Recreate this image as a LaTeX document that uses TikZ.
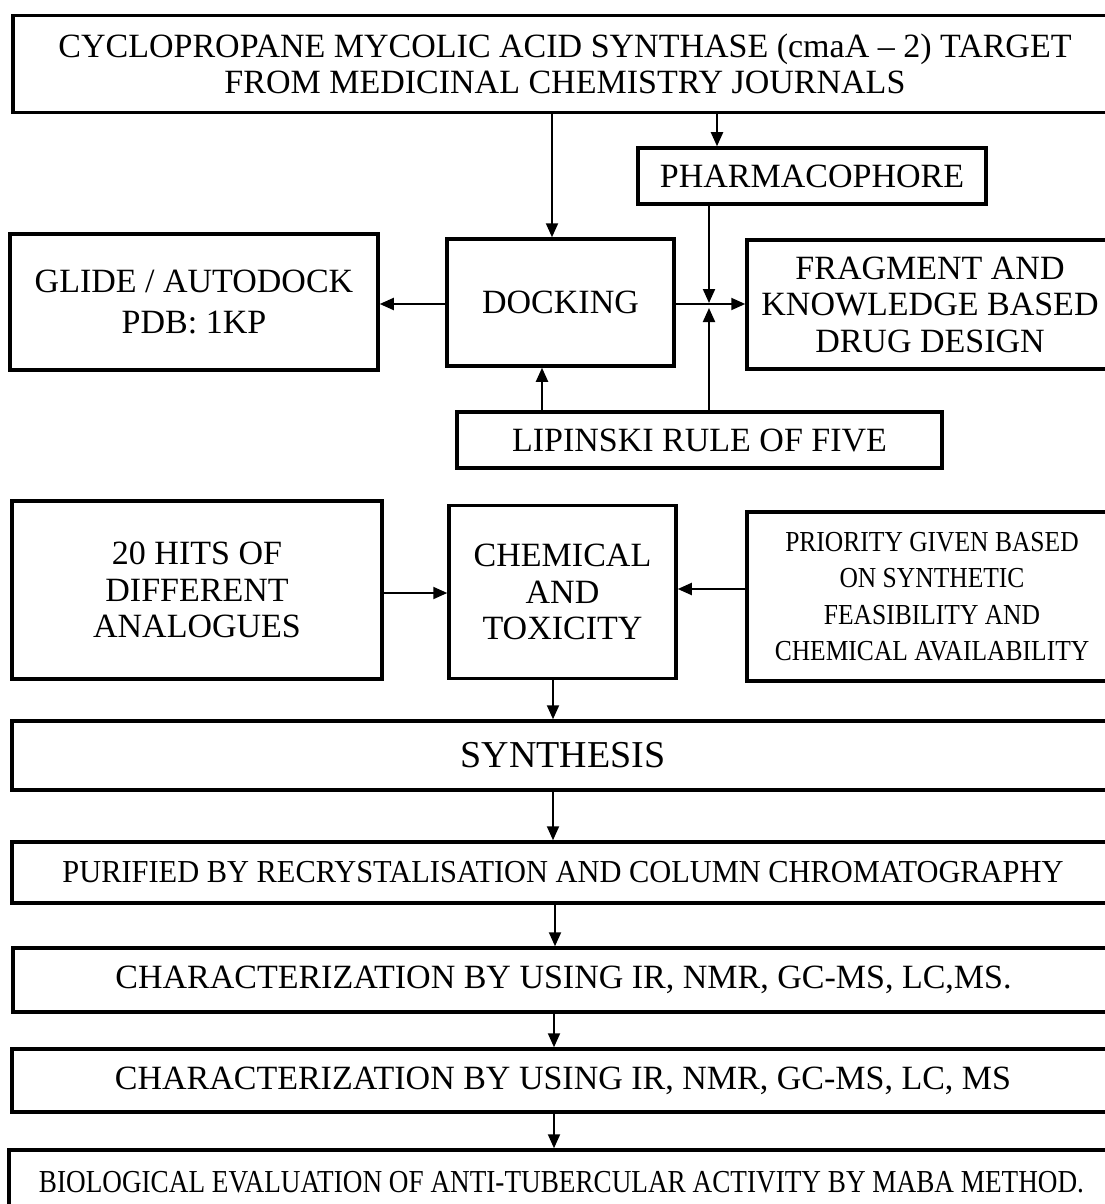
\documentclass[tikz,border=0pt]{standalone}
\usepackage{fontspec}
\setmainfont{Liberation Serif}
\newfontfamily\condA{Liberation Serif}[FakeStretch=0.88]
\newfontfamily\condB{Liberation Serif}[FakeStretch=0.85]
\newfontfamily\condC{Liberation Serif}[FakeStretch=0.95]
\usetikzlibrary{arrows.meta}
\begin{document}
\begin{tikzpicture}[x=1pt,y=-1pt,
  boxnode/.style={draw, line width=3.5pt, align=center, inner sep=0pt,
    font=\fontsize{34}{36.5}\selectfont},
  arr/.style={line width=2pt, -{Triangle[length=14pt,width=12pt]}}]
\useasboundingbox (0,0) rectangle (1105,1204);
\clip (0,0) rectangle (1105,1204);
\fill[white] (0,0) rectangle (1105,1204);

% boxes
\node[boxnode, minimum width=1104pt, minimum height=97pt] (top) at (565,64)
  {CYCLOPROPANE MYCOLIC ACID SYNTHASE (cmaA – 2) TARGET\\FROM MEDICINAL CHEMISTRY JOURNALS};
\node[boxnode, minimum width=348pt, minimum height=56pt] (pharma) at (812,176) {PHARMACOPHORE};
\node[boxnode, minimum width=368pt, minimum height=136pt] (glide) at (194,302) {GLIDE / AUTODOCK\\[5pt]PDB: 1KP};
\node[boxnode, minimum width=227pt, minimum height=127pt] (dock) at (560.5,302.5) {DOCKING};
\node[boxnode, minimum width=366pt, minimum height=129pt] (frag) at (930,304.5)
  {FRAGMENT AND\\KNOWLEDGE BASED\\DRUG DESIGN};
\node[boxnode, minimum width=485pt, minimum height=56pt] (lip) at (699.5,440) {LIPINSKI RULE OF FIVE};
\node[boxnode, minimum width=370pt, minimum height=178pt] (hits) at (197,590)
  {20 HITS OF\\DIFFERENT\\ANALOGUES};
\node[boxnode, minimum width=227pt, minimum height=173pt] (chem) at (562.5,592)
  {CHEMICAL\\AND\\TOXICITY};
\node[boxnode, minimum width=370pt, minimum height=169pt,
  font=\condA\fontsize{29}{36.5}\selectfont] (prio) at (932,596.5)
  {PRIORITY GIVEN BASED\\ON SYNTHETIC\\FEASIBILITY AND\\CHEMICAL AVAILABILITY};
\node[boxnode, minimum width=1102pt, minimum height=69pt,
  font=\fontsize{38}{40}\selectfont] (synth) at (563,755.5) {SYNTHESIS};
\node[boxnode, minimum width=1102pt, minimum height=61pt,
  font=\condC\fontsize{32}{36}\selectfont] (pur) at (563,872.5)
  {PURIFIED BY RECRYSTALISATION AND COLUMN CHROMATOGRAPHY};
\node[boxnode, minimum width=1101pt, minimum height=64pt] (char1) at (563.5,980)
  {CHARACTERIZATION BY USING IR, NMR, GC-MS, LC,MS.};
\node[boxnode, minimum width=1102pt, minimum height=63pt] (char2) at (563,1080.5)
  {CHARACTERIZATION BY USING IR, NMR, GC-MS, LC, MS};
\node[boxnode, minimum width=1105pt, minimum height=64pt,
  font=\condB\fontsize{32}{36}\selectfont] (bio) at (561.5,1182)
  {BIOLOGICAL EVALUATION OF ANTI-TUBERCULAR ACTIVITY BY MABA METHOD.};

% junction points
\coordinate (Jt) at (709,303);
\coordinate (Jb) at (709,308);

% connectors
\draw[arr] (top.south -| 552,0) -- (dock.north -| 552,0);
\draw[arr] (top.south -| 717,0) -- (pharma.north -| 717,0);
\draw[arr] (pharma.south -| Jt) -- (Jt);
\draw[arr] (dock.west |- 0,304) -- (glide.east |- 0,304);
\draw[arr] (dock.east |- 0,304) -- (frag.west |- 0,304);
\draw[arr] (lip.north -| Jb) -- (Jb);
\draw[arr] (lip.north -| 542,0) -- (dock.south -| 542,0);
\draw[arr] (hits.east |- 0,593) -- (chem.west |- 0,593);
\draw[arr] (prio.west |- 0,589) -- (chem.east |- 0,589);
\draw[arr] (chem.south -| 553,0) -- (synth.north -| 553,0);
\draw[arr] (synth.south -| 553,0) -- (pur.north -| 553,0);
\draw[arr] (pur.south -| 555,0) -- (char1.north -| 555,0);
\draw[arr] (char1.south -| 554,0) -- (char2.north -| 554,0);
\draw[arr] (char2.south -| 554,0) -- (bio.north -| 554,0);
\end{tikzpicture}
\end{document}
